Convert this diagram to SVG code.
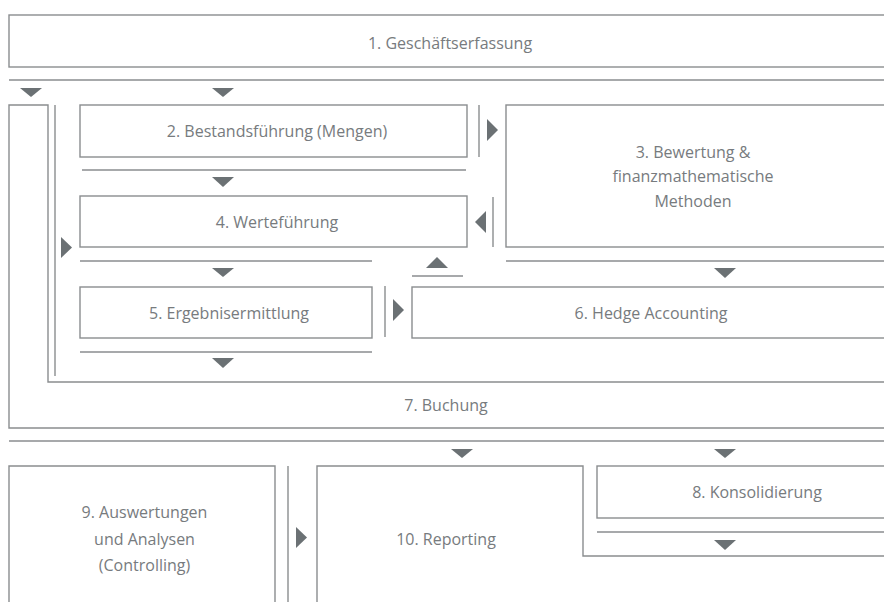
<svg xmlns="http://www.w3.org/2000/svg" width="884" height="602" viewBox="0 0 884 602">
<style>
.b{fill:#fff;stroke:#8a8d8f;stroke-width:1.4}
.l{fill:none;stroke:#8a8d8f;stroke-width:1.4}
.a{fill:#6b7174}
text{font-family:"Open Sans","Noto Sans","Liberation Sans",sans-serif;font-size:16px;fill:#777b7e;text-anchor:middle;dominant-baseline:central}
</style>
<rect width="884" height="602" fill="#fff"/>
<g id="n1"><rect class="b" x="9" y="15" width="880" height="52"/><text x="450" y="43">1. Geschäftserfassung</text></g>
<g id="n7"><path class="b" d="M890,382 L48,382 L48,105 L9,105 L9,428 L890,428"/><text x="446" y="405">7. Buchung</text></g>
<g id="n2"><rect class="b" x="80" y="105" width="387" height="52"/><text x="277" y="131">2. Bestandsführung (Mengen)</text></g>
<g id="n3"><rect class="b" x="506" y="105" width="384" height="142"/><text x="693" y="152">3. Bewertung &amp;</text><text x="693" y="176">finanzmathematische</text><text x="693" y="201">Methoden</text></g>
<g id="n4"><rect class="b" x="80" y="196" width="387" height="51"/><text x="277" y="222">4. Werteführung</text></g>
<g id="n5"><rect class="b" x="80" y="287" width="292" height="51"/><text x="229" y="313">5. Ergebnisermittlung</text></g>
<g id="n6"><rect class="b" x="412" y="287" width="478" height="51"/><text x="651" y="313">6. Hedge Accounting</text></g>
<g id="n9"><path class="b" d="M9,610 L9,466 L275,466 L275,610"/><text x="144.5" y="512">9. Auswertungen</text><text x="144.5" y="539">und Analysen</text><text x="144.5" y="565">(Controlling)</text></g>
<g id="n10"><path class="b" d="M317,610 L317,466 L583,466 L583,556 L890,556"/><text x="446" y="539">10. Reporting</text></g>
<g id="n8"><rect class="b" x="597" y="466" width="293" height="52"/><text x="757" y="492">8. Konsolidierung</text></g>
<g id="connectors">
<line class="l" x1="9" y1="80" x2="890" y2="80"/>
<polygon class="a" points="20,88 42,88 31,97"/>
<polygon class="a" points="212,88 234,88 223,97"/>
<line class="l" x1="55" y1="105" x2="55" y2="376"/>
<polygon class="a" points="61,237 72,247.5 61,258"/>
<line class="l" x1="479" y1="105" x2="479" y2="157"/>
<polygon class="a" points="487,119 498,130 487,141"/>
<line class="l" x1="82" y1="170" x2="466" y2="170"/>
<polygon class="a" points="212,177 234,177 223,187"/>
<line class="l" x1="493" y1="197" x2="493" y2="247"/>
<polygon class="a" points="486,211 475,222 486,233"/>
<line class="l" x1="80" y1="261" x2="372" y2="261"/>
<line class="l" x1="506" y1="261" x2="890" y2="261"/>
<polygon class="a" points="212,268 234,268 223,277"/>
<polygon class="a" points="426,268 448,268 437,257"/>
<line class="l" x1="412" y1="276" x2="463" y2="276"/>
<polygon class="a" points="714,268 736,268 725,278"/>
<line class="l" x1="385" y1="286" x2="385" y2="337"/>
<polygon class="a" points="393,299 404,310 393,321"/>
<line class="l" x1="80" y1="352" x2="372" y2="352"/>
<polygon class="a" points="212,358 234,358 223,368"/>
<line class="l" x1="9" y1="441" x2="890" y2="441"/>
<polygon class="a" points="451,449 473,449 462,458"/>
<polygon class="a" points="714,449 736,449 725,458"/>
<line class="l" x1="288" y1="466" x2="288" y2="610"/>
<polygon class="a" points="296,527 307,537.5 296,548"/>
<line class="l" x1="597" y1="532" x2="890" y2="532"/>
<polygon class="a" points="714,540 736,540 725,550"/>
</g>
</svg>
